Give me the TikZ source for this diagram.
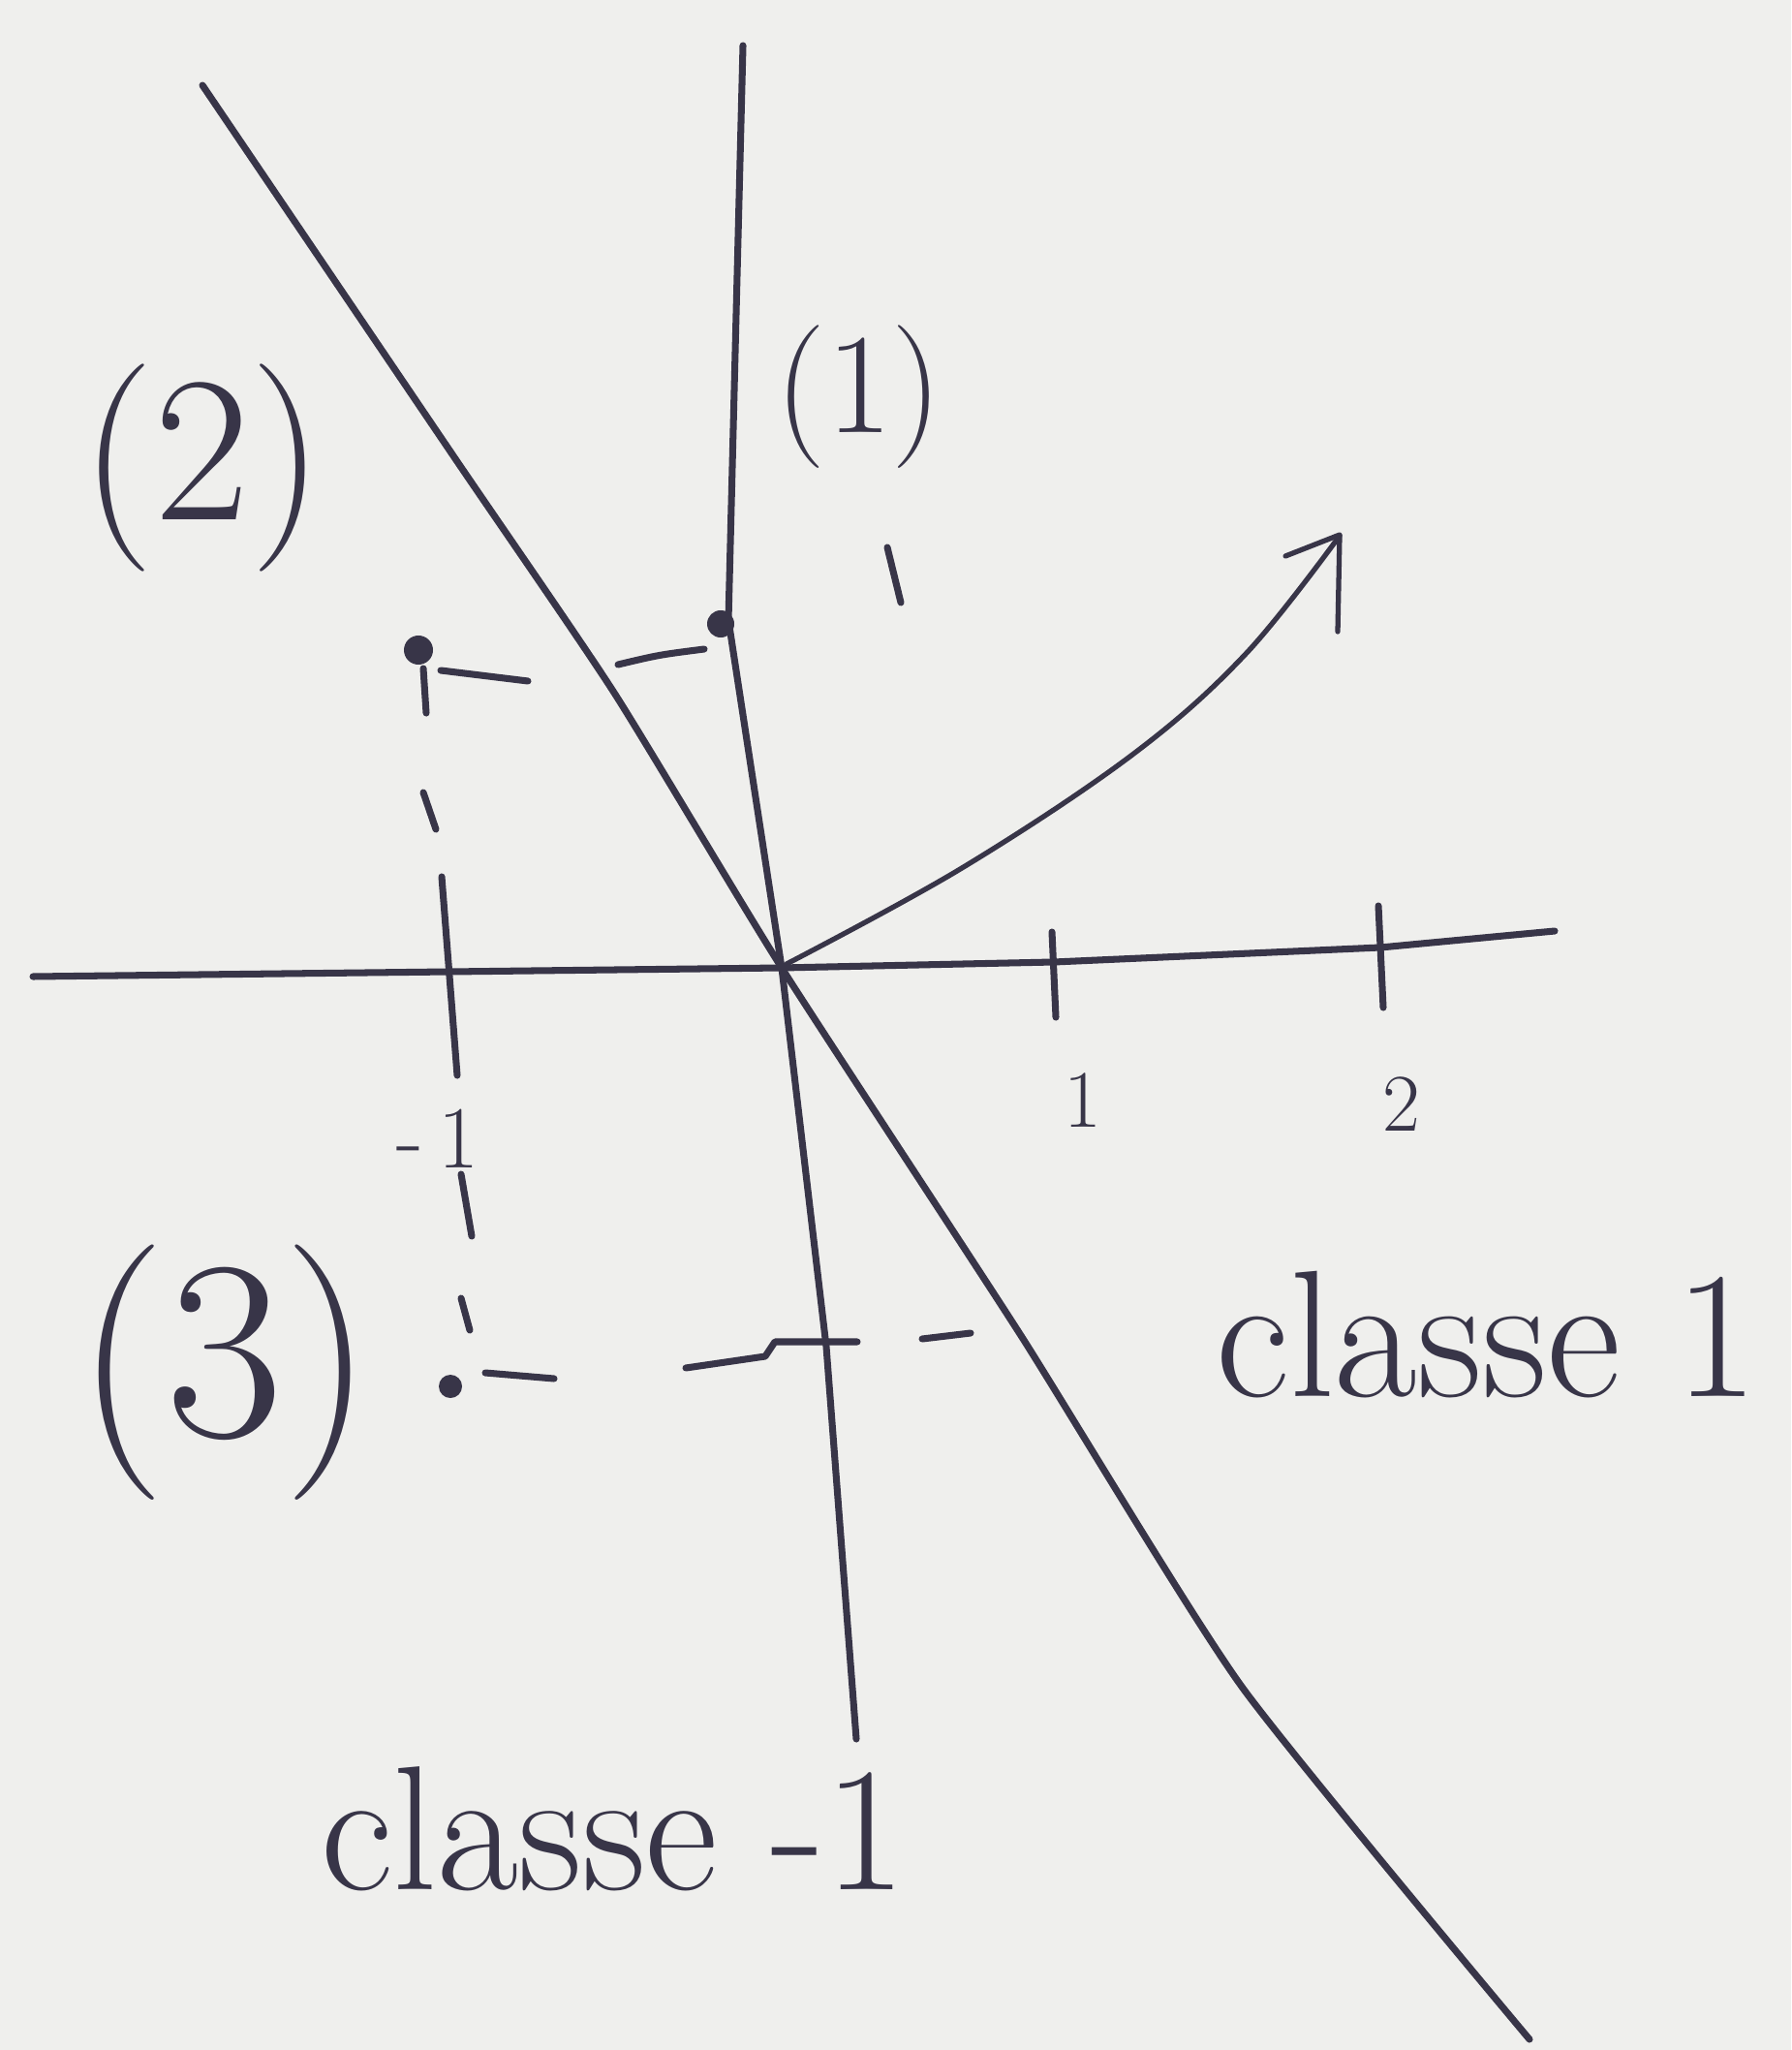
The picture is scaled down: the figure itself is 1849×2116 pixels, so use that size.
\documentclass[tikz,border=0pt]{standalone}
\usepackage{fontspec}
\definecolor{ink}{RGB}{56,53,72}
\definecolor{paper}{RGB}{239,239,237}
\tikzset{
  pen/.style={draw=ink, line width=2pt, line cap=round, line join=round},
  thinpen/.style={draw=ink, line width=1.5pt, line cap=round, line join=round},
  lbl/.style={text=ink, inner sep=0pt},
  blob/.style={fill=ink}
}
\begin{document}
\begin{tikzpicture}[x=0.01cm,y=-0.01cm]
\fill[paper] (0,0) rectangle (1849,2116);
\useasboundingbox (0,0) rectangle (1849,2116);

% key points
\coordinate (O) at (807,999);
\coordinate (A) at (432,671);
\coordinate (B) at (744,644);
\coordinate (C) at (465,1431);

% x-axis with ticks
\draw[pen] (34,1008) -- (O) -- (1088,993) -- (1425,978) -- (1605,961);
\draw[pen] (1086,962) -- (1090,1050);
\draw[pen] (1423,935) -- (1428,1040);

% y-axis
\draw[pen] (767,47) -- (752,640) -- (O) -- (853,1390) -- (884,1795);

% line (2) through origin
\draw[pen] plot[smooth, tension=0.35] coordinates {(209,88) (469,472) (634,715) (O) (1053,1377) (1282,1741) (1579,2105)};

% curved arrow
\draw[thinpen] plot[smooth, tension=0.6] coordinates {(812,995) (993,896) (1169,779) (1286,675) (1383,553)};
\draw[thinpen] (1327,574) -- (1383,552) -- (1381,652);

% points
\fill[blob] (A) circle[radius=0.15cm];
\fill[blob] (B) circle[radius=0.14cm];
\fill[blob] (C) circle[radius=0.12cm];

% dashed guide from A down to C
\draw[pen] (437,690) -- (440,736);
\draw[pen] (437,818) -- (450,856);
\draw[pen] (456,905) -- (472,1110);
\draw[pen] (476,1212) -- (487,1276);
\draw[pen] (476,1340) -- (485,1373);

% horizontal dashes at level of A and B
\draw[pen] (455,692) -- (545,703);
\draw[pen] (638,686) .. controls (680,676) .. (727,670);

% horizontal dashes at level of C
\draw[pen] (501,1417) -- (572,1423);
\draw[pen] (708,1412) -- (790,1400) -- (800,1385) -- (885,1385);
\draw[pen] (952,1382) -- (1002,1376);

% small stroke under (1)
\draw[pen] (916,565) -- (930,622);

% labels
\node[lbl, font=\fontsize{61}{66}\selectfont] (l2) at (209,483) {(2)};
\node[lbl, font=\fontsize{42}{46}\selectfont] (l1) at (887,410) {(1)};
\node[lbl, font=\fontsize{75}{80}\selectfont] (l3) at (232,1417) {(3)};
\node[lbl, font=\fontsize{53}{58}\selectfont, anchor=base west] (c1) at (1255,1441) {classe 1};
\node[lbl, font=\fontsize{52}{57}\selectfont, anchor=base west] (cm1) at (331,1950) {classe -1};
\node[lbl, font=\fontsize{24}{28}\selectfont] (t1) at (1118,1136) {1};
\node[lbl, font=\fontsize{24}{28}\selectfont] (t2) at (1447,1140) {2};
\node[lbl, font=\fontsize{26}{30}\selectfont] (tm1) at (452,1175) {-\,1};
\end{tikzpicture}
\end{document}
